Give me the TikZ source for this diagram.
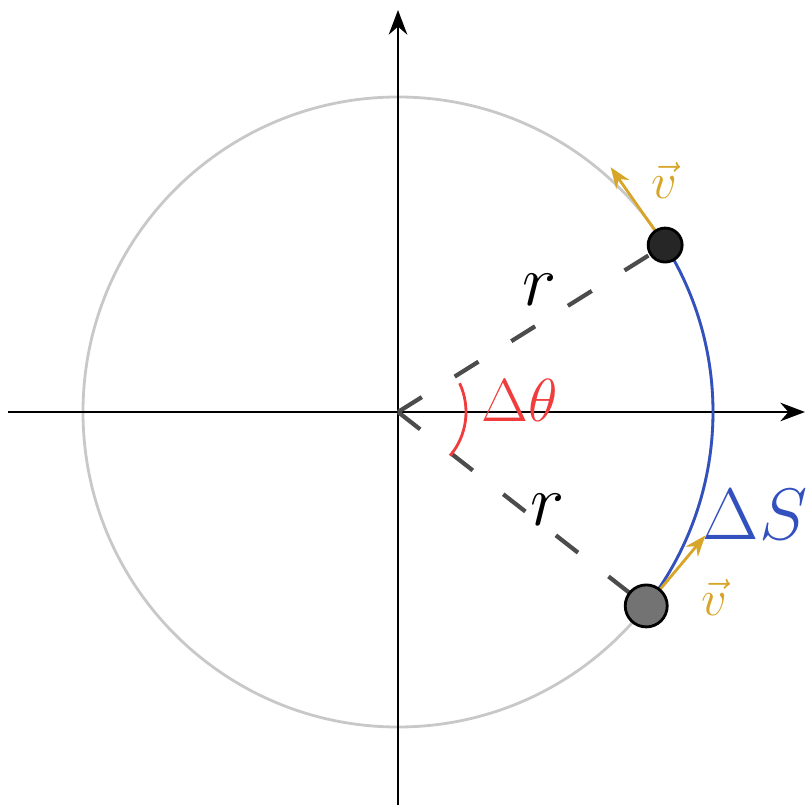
\documentclass[tikz,border=0pt]{standalone}
\usepackage{xcolor}
\definecolor{circgray}{RGB}{200, 200, 200}
\definecolor{arcblue}{RGB}{ 50,  80, 190}
\definecolor{angred}{RGB}{240,  60,  60}
\definecolor{velgold}{RGB}{215, 165,  40}
\usepackage{tikz}
\usetikzlibrary{positioning, arrows.meta, calc, backgrounds}

\begin{document}
\begin{tikzpicture}

  \tikzstyle{axis} = [thick, black, -{Stealth[length=7pt]}]
  \tikzstyle{radius} = [very thick, black!70, dash pattern=on 8pt off 11pt]
  \tikzstyle{mass} = [circle, draw=black, thick, inner sep=0pt, minimum size=0.34cm]
  \tikzstyle{vel} = [thick, velgold, -{Stealth[length=6pt]}]

  \useasboundingbox (-3.98,-3.97) rectangle (4.11,4.12);

  \coordinate (O) at (0,0);

  % the two positions
  \node[mass, fill=black!85] (p1) at (32:3.15) {};
  \node[mass, fill=black!55, minimum size=0.42cm] (p2) at (-38:3.15) {};

  \begin{pgfonlayer}{background}
    % circle of the motion
    \draw[circgray, thick] (O) circle (3.15);

    % axes
    \draw[axis] (-3.90,0) -- (4.07,0);
    \draw[axis] (0,-3.93) -- (0,4.02);

    % radii
    \draw[radius] (O) -- (p1.center);
    \draw[radius] (O) -- (p2.center);

    % travelled arc
    \draw[arcblue, thick] (p1.center) arc (32:-38:3.15);

    % velocities
    \coordinate (v1) at ($(p1.center)+(125:0.95)$);
    \coordinate (v2) at ($(p2.center)+(50:0.92)$);
    \draw[vel] (p1.center) -- (v1);
    \draw[vel] (p2.center) -- (v2);
  \end{pgfonlayer}

  \node[font=\huge] (r1) at (1.42,1.22) {$r$};
  \node[font=\huge] (r2) at (1.50,-0.98) {$r$};

  % swept angle
  \draw[angred, thick] (25:0.68) arc (25:-40:0.68);
  \node[angred, font=\LARGE] (dth) at (1.22,0.12) {$\Delta\theta$};

  \node[arcblue, font=\huge] (ds) at (3.57,-1.03) {$\Delta S$};

  \node[velgold, font=\Large] (lv1) at (2.66,2.32) {$\vec{v}$};
  \node[velgold, font=\Large] (lv2) at (3.16,-1.85) {$\vec{v}$};

\end{tikzpicture}
\end{document}
